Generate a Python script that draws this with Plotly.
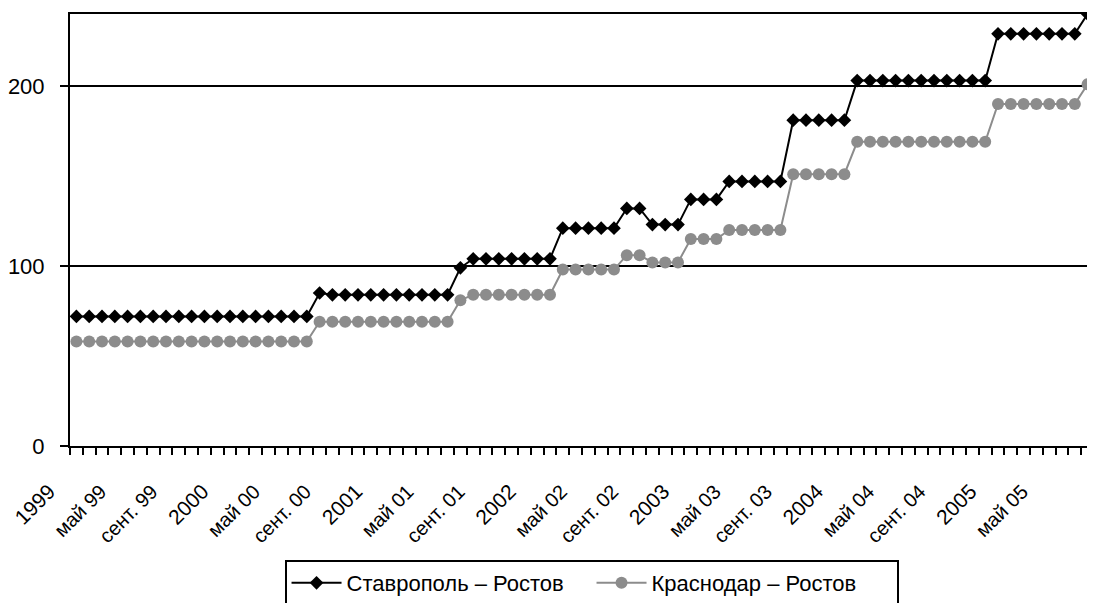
import plotly.graph_objects as go

month_abbr = ["янв.", "февр.", "март", "апр.", "май", "июнь",
              "июль", "авг.", "сент.", "окт.", "нояб.", "дек."]
years = ["99", "00", "01", "02", "03", "04", "05"]
categories = [f"{m} {y}" for y in years for m in month_abbr][:80]

stavropol = [72]*19 + [85] + [84]*10 + [99] + [104]*7 + [121]*5 + [132]*2 + \
    [123]*3 + [137]*3 + [147]*5 + [181]*5 + [203]*11 + [229]*7 + [240]
krasnodar = [58]*19 + [69] + [69]*10 + [81] + [84]*7 + [98]*5 + [106]*2 + \
    [102]*3 + [115]*3 + [120]*5 + [151]*5 + [169]*11 + [190]*7 + [201]

shown_labels = ["1999", "май 99", "сент. 99", "2000", "май 00", "сент. 00",
                "2001", "май 01", "сент. 01", "2002", "май 02", "сент. 02",
                "2003", "май 03", "сент. 03", "2004", "май 04", "сент. 04",
                "2005", "май 05"]

series_names = ["Ставрополь – Ростов", "Краснодар – Ростов"]

ticktext = []
for i, c in enumerate(categories):
    if i % 4 == 0:
        lab = shown_labels[i // 4]
        if lab.isdigit():
            lab = f"<span style='font-size:21px'>{lab}</span>"
        ticktext.append(lab)
    else:
        ticktext.append("")

REG = "Liberation Sans, Arial, sans-serif"

fig = go.Figure()
fig.add_trace(go.Scatter(
    x=categories, y=stavropol, name=series_names[0], mode="lines+markers",
    line=dict(color="#000000", width=2),
    marker=dict(symbol="diamond", size=10.5, color="#000000")))
fig.add_trace(go.Scatter(
    x=categories, y=krasnodar, name=series_names[1], mode="lines+markers",
    line=dict(color="#8c8c8c", width=2),
    marker=dict(symbol="circle", size=12, color="#8c8c8c")))

# page has an 8px body margin: figure drawn at (8, 8)
fig.update_layout(
    width=1087, height=595,
    margin=dict(l=62, r=1, t=6, b=157, autoexpand=False),
    paper_bgcolor="white", plot_bgcolor="white",
    showlegend=True,
    legend=dict(orientation="h", x=0.2095, xanchor="left", y=-0.2639, yanchor="top",
                bordercolor="#000000", borderwidth=2, bgcolor="white",
                font=dict(family=REG, size=22, color="#000000"),
                itemwidth=50,
                entrywidth=240, entrywidthmode="pixels", tracegroupgap=0),
    xaxis=dict(type="category", range=[-0.5, 79.5], tickmode="array",
               tickvals=categories, ticktext=ticktext,
               tickson="boundaries", ticks="outside", ticklen=7, tickwidth=2, tickcolor="#000",
               tickangle=-45, showgrid=False, showline=True, linecolor="#000", linewidth=2,
               mirror=True, zeroline=False, ticklabelshift=-27, ticklabelstandoff=24,
               tickfont=dict(family=REG, size=20, color="#000")),
    yaxis=dict(range=[0, 240], tickvals=[0, 100, 200], ticks="outside", ticklen=8,
               tickwidth=1.5, tickcolor="#000", showgrid=True, gridcolor="#000", gridwidth=1.5,
               showline=True, linecolor="#000", linewidth=2, zeroline=False,
               ticklabelstandoff=11,
               tickfont=dict(family=REG, size=22, color="#000")),
)
fig.add_shape(type="line", xref="paper", yref="paper", x0=1, x1=1, y0=0, y1=1,
              line=dict(color="#666666", width=1))

fig.write_html("out.html")
